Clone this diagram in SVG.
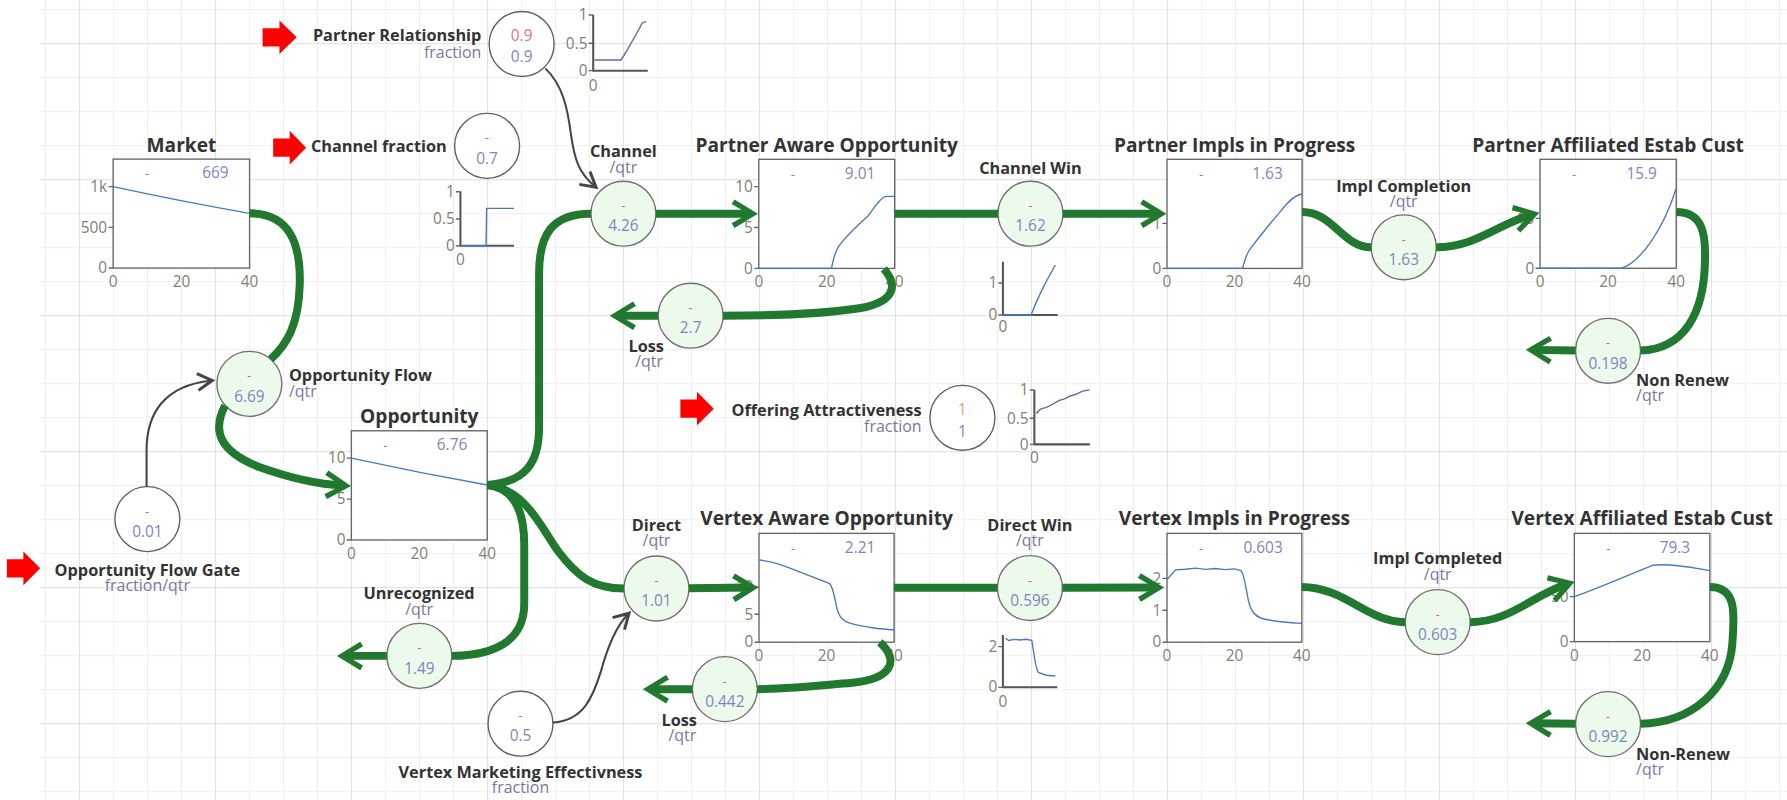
<svg xmlns="http://www.w3.org/2000/svg" width="1787" height="800" viewBox="0 0 1787 800">
<style>
text{font-family:"Open Sans","Liberation Sans",sans-serif}
.t{font-size:16.8px;font-weight:700;fill:#333;text-anchor:middle}
.lb{font-size:14.3px;font-weight:700;fill:#333}
.u{font-size:14px;fill:#7b76a0}
.v{font-size:13.5px;fill:#7d85c0}
.v1{font-size:13.5px;fill:#e8707f}
.v2{font-size:13.5px;fill:#f39a6b}
.d{font-size:11px;fill:#f05454;text-anchor:middle}
.ax{font-size:13.5px;fill:#877d70}
.c{text-anchor:middle}
.e{text-anchor:end}
.box{fill:#fff;stroke:#666;stroke-width:1.2}
.tk{stroke:#666;stroke-width:1.2;fill:none}
.crv{fill:none;stroke:#4a78c8;stroke-width:1.2}
.pcrv{fill:none;stroke:#7a62a8;stroke-width:1.3}
.sax{fill:none;stroke:#555;stroke-width:1.8}
.flow{fill:#ebfaeb;stroke:#707070;stroke-width:1.2}
.aux{fill:#fff;stroke:#606060;stroke-width:1.2}
.pipe{fill:none;stroke:#21782f;stroke-width:7}
.link{fill:none;stroke:#454545;stroke-width:1.8}
.red{fill:#f00}
</style>
<defs>
<pattern id="grid" x="79.1" y="43.2" width="136" height="136" patternUnits="userSpaceOnUse">
<path d="M34.5,0V136M68.5,0V136M102.5,0V136M0,34.5H136M0,68.5H136M0,102.5H136" stroke="#efefef" stroke-width="1"/>
<path d="M0.5,0V136M0,0.5H136" stroke="#dedede" stroke-width="1"/>
</pattern>
<marker id="ah" viewBox="-24 -14 31 28" refX="-7" refY="0" markerWidth="31" markerHeight="28" markerUnits="userSpaceOnUse" orient="auto">
<path d="M0,0 L-20.5,-12.5 L-23,-8.4 L-8.5,0 L-23,8.4 L-20.5,12.5 Z" fill="#21782f"/>
</marker>
<marker id="ag" viewBox="-19 -10 25 20" refX="-4" refY="0" markerWidth="25" markerHeight="20" markerUnits="userSpaceOnUse" orient="auto">
<path d="M0,0 L-15,-8.5 L-16.3,-6.3 L-5.5,0 L-16.3,6.3 L-15,8.5 Z" fill="#454545"/>
</marker>
</defs>
<rect width="1787" height="800" fill="#fff"/>
<rect x="40" y="0" width="1747" height="800" fill="url(#grid)"/>

<g transform="scale(1.13967)">

<!-- stocks -->
<g id="market">
<text class="t" x="159.2" y="133">Market</text>
<rect class="box" x="99.3" y="139.6" width="119.7" height="95.6"/>
<path class="tk" d="M95.3,163.8H99.3M95.3,199.5H99.3M95.3,235.2H99.3"/>
<text class="ax e" x="94" y="168.4">1k</text>
<text class="ax e" x="94" y="204.1">500</text>
<text class="ax e" x="94" y="239.8">0</text>
<text class="ax c" x="99.3" y="251.7">0</text>
<text class="ax c" x="159.2" y="251.7">20</text>
<text class="ax c" x="219" y="251.7">40</text>
<path class="crv" d="M99.3,163.8 Q160,177 219,187.2"/>
<text class="d" x="129.3" y="156.6">-</text>
<text class="v e" x="200.5" y="156.6">669</text>
</g>

<g id="partner-aware-opportunity">
<text class="t" x="725.4" y="133">Partner Aware Opportunity</text>
<rect class="box" x="665.8" y="139.8" width="119.2" height="95.7"/>
<path class="tk" d="M661.8,163.8H665.8M661.8,199.6H665.8M661.8,235.5H665.8"/>
<text class="ax e" x="660.5" y="168.4">10</text>
<text class="ax e" x="660.5" y="204.2">5</text>
<text class="ax e" x="660.5" y="240.1">0</text>
<text class="ax c" x="665.8" y="251.8">0</text>
<text class="ax c" x="725.4" y="251.8">20</text>
<text class="ax c" x="785" y="251.8">40</text>
<path class="crv" d="M665.8,235.5 L729.6,235.5 C731,228 732,222 736,216 C745,204 755,196 762,189 C768,181 772,174 777,172.3 L785,172.3"/>
<text class="d" x="695.8" y="156.8">-</text>
<text class="v e" x="768" y="156.8">9.01</text>
</g>

<g id="partner-impls-in-progress">
<text class="t" x="1083.3" y="133">Partner Impls in Progress</text>
<rect class="box" x="1024" y="139.8" width="118.5" height="95.7"/>
<path class="tk" d="M1020,196H1024M1020,235.5H1024"/>
<text class="ax e" x="1019" y="200.6">1</text>
<text class="ax e" x="1019" y="240.1">0</text>
<text class="ax c" x="1024" y="251.8">0</text>
<text class="ax c" x="1083.3" y="251.8">20</text>
<text class="ax c" x="1142.5" y="251.8">40</text>
<path class="crv" d="M1024,235.5 L1090.2,235.5 C1093,226 1094,222 1098,217 C1108,204 1117,193 1124,185 C1130,177 1136,171 1142.5,170.2"/>
<text class="d" x="1054" y="156.8">-</text>
<text class="v e" x="1125.5" y="156.8">1.63</text>
</g>

<g id="partner-affiliated-estab-cust">
<text class="t" x="1411" y="133">Partner Affiliated Estab Cust</text>
<rect class="box" x="1351.3" y="139.8" width="119.5" height="95.6"/>
<path class="tk" d="M1347.3,191.6H1351.3M1347.3,235.4H1351.3"/>
<text class="ax e" x="1346.3" y="196.2">10</text>
<text class="ax e" x="1346.3" y="240">0</text>
<text class="ax c" x="1351.3" y="251.8">0</text>
<text class="ax c" x="1411" y="251.8">20</text>
<text class="ax c" x="1470.8" y="251.8">40</text>
<path class="crv" d="M1351.3,235.4 L1422.5,235.4 C1440,230 1460,200 1470.8,165.2"/>
<text class="d" x="1381.3" y="156.8">-</text>
<text class="v e" x="1453.8" y="156.8">15.9</text>
</g>

<g id="opportunity">
<text class="t" x="367.9" y="371">Opportunity</text>
<rect class="box" x="308.3" y="378" width="119.2" height="95.8"/>
<path class="tk" d="M304.3,402H308.3M304.3,437.9H308.3M304.3,473.8H308.3"/>
<text class="ax e" x="303.3" y="406.6">10</text>
<text class="ax e" x="303.3" y="442.5">5</text>
<text class="ax e" x="303.3" y="478.4">0</text>
<text class="ax c" x="308.3" y="490.2">0</text>
<text class="ax c" x="367.9" y="490.2">20</text>
<text class="ax c" x="427.5" y="490.2">40</text>
<path class="crv" d="M308.3,402 Q368,415 427.5,425.6"/>
<text class="d" x="338.3" y="395">-</text>
<text class="v e" x="410" y="395">6.76</text>
</g>

<g id="vertex-aware-opportunity">
<text class="t" x="725.3" y="461">Vertex Aware Opportunity</text>
<rect class="box" x="666" y="468" width="118.5" height="95.5"/>
<path class="tk" d="M662,515H666M662,539H666M662,563.5H666"/>
<text class="ax e" x="661" y="519.6">10</text>
<text class="ax e" x="661" y="543.6">5</text>
<text class="ax e" x="661" y="568.1">0</text>
<text class="ax c" x="666" y="580.2">0</text>
<text class="ax c" x="725.3" y="580.2">20</text>
<text class="ax c" x="784.5" y="580.2">40</text>
<path class="crv" d="M666,491.4 C675,492 680,494 688,496.5 L728,512 C731,516 732,522 733.5,530 C735.5,540 738,544 745,546.5 C752,549 760,550 770,551.5 L784.5,552.8"/>
<text class="d" x="696" y="485">-</text>
<text class="v e" x="768" y="485">2.21</text>
</g>

<g id="vertex-impls-in-progress">
<text class="t" x="1083.2" y="461">Vertex Impls in Progress</text>
<rect class="box" x="1024" y="468" width="118.3" height="95.5"/>
<path class="tk" d="M1020,507.5H1024M1020,535.5H1024M1020,563.5H1024"/>
<text class="ax e" x="1019" y="512.1">2</text>
<text class="ax e" x="1019" y="540.1">1</text>
<text class="ax e" x="1019" y="568.1">0</text>
<text class="ax c" x="1024" y="580.2">0</text>
<text class="ax c" x="1083.2" y="580.2">20</text>
<text class="ax c" x="1142.3" y="580.2">40</text>
<path class="crv" d="M1024,508.5 L1031.5,500 L1040,499.5 L1049,498.5 L1058,499.6 L1066,498.8 L1075,499.8 L1083,499.2 L1089,500.7 C1092,505 1093,515 1095,525 C1097,535 1100,540 1107,542.5 C1115,545 1125,546 1142.3,547"/>
<text class="d" x="1054" y="485">-</text>
<text class="v e" x="1125.5" y="485">0.603</text>
</g>

<g id="vertex-affiliated-estab-cust">
<text class="t" x="1440.9" y="461">Vertex Affiliated Estab Cust</text>
<rect class="box" x="1381.4" y="468" width="118.9" height="95"/>
<path class="tk" d="M1377.4,523.5H1381.4M1377.4,563H1381.4"/>
<text class="ax e" x="1376.4" y="528.1">50</text>
<text class="ax e" x="1376.4" y="567.6">0</text>
<text class="ax c" x="1381.4" y="579.7">0</text>
<text class="ax c" x="1440.9" y="579.7">20</text>
<text class="ax c" x="1500.3" y="579.7">40</text>
<path class="crv" d="M1381.4,523.5 C1405,515 1430,504 1450,496 C1465,494 1485,498 1500.3,500.7"/>
<text class="d" x="1411.4" y="485">-</text>
<text class="v e" x="1483" y="485">79.3</text>
</g>

<!-- flows -->
<g id="opportunity-flow">
<circle class="flow" cx="218.8" cy="336.8" r="28.5"/>
<text class="d" x="218.8" y="333.8">-</text>
<text class="v c" x="218.8" y="352.4">6.69</text>
<text class="lb" x="253.5" y="334">Opportunity Flow</text>
<text class="u" x="253.5" y="348.5">/qtr</text>
</g>

<g id="channel">
<circle class="flow" cx="547" cy="187.5" r="28.5"/>
<text class="d" x="547" y="184.5">-</text>
<text class="v c" x="547" y="203">4.26</text>
<text class="lb c" x="547" y="137.5">Channel</text>
<text class="u c" x="547" y="151.5">/qtr</text>
</g>

<g id="loss-partner">
<circle class="flow" cx="606" cy="277" r="28.5"/>
<text class="d" x="606" y="274">-</text>
<text class="v c" x="606" y="292.6">2.7</text>
<text class="lb c" x="567" y="308.6">Loss</text>
<text class="u c" x="569.5" y="322">/qtr</text>
</g>

<g id="channel-win">
<circle class="flow" cx="904.2" cy="187.5" r="28.5"/>
<text class="d" x="904.2" y="184.5">-</text>
<text class="v c" x="904.2" y="203">1.62</text>
<text class="lb c" x="904.2" y="152.7">Channel Win</text>
<path class="sax" d="M880,229.6V276.4H928"/>
<path class="tk" d="M876,248.3H880M876,276.4H880"/>
<text class="ax e" x="875" y="252.9">1</text>
<text class="ax e" x="875" y="281">0</text>
<text class="ax c" x="880" y="291.2">0</text>
<path class="crv" d="M880,276.4 L904.7,276.4 C910,262 914,255 918,247 L926,232.5"/>
</g>

<g id="impl-completion">
<circle class="flow" cx="1231.7" cy="217" r="28.5"/>
<text class="d" x="1231.7" y="214">-</text>
<text class="v c" x="1231.7" y="232.6">1.63</text>
<text class="lb c" x="1231.7" y="168.2">Impl Completion</text>
<text class="u c" x="1231.7" y="181.5">/qtr</text>
</g>

<g id="non-renew">
<circle class="flow" cx="1411" cy="307.8" r="28.5"/>
<text class="d" x="1411" y="304.8">-</text>
<text class="v c" x="1411" y="323.4">0.198</text>
<text class="lb" x="1435.6" y="338.7">Non Renew</text>
<text class="u" x="1435.6" y="352">/qtr</text>
</g>

<g id="unrecognized">
<circle class="flow" cx="368" cy="575.5" r="28.5"/>
<text class="d" x="368" y="572.5">-</text>
<text class="v c" x="368" y="591">1.49</text>
<text class="lb c" x="367.7" y="525.9">Unrecognized</text>
<text class="u c" x="367.7" y="539.5">/qtr</text>
</g>

<g id="direct">
<circle class="flow" cx="576" cy="516.4" r="28.5"/>
<text class="d" x="576" y="513.4">-</text>
<text class="v c" x="576" y="532">1.01</text>
<text class="lb c" x="576" y="465.6">Direct</text>
<text class="u c" x="576" y="479.5">/qtr</text>
</g>

<g id="loss-vertex">
<circle class="flow" cx="636" cy="604.7" r="28.5"/>
<text class="d" x="636" y="601.7">-</text>
<text class="v c" x="636" y="620.3">0.442</text>
<text class="lb c" x="596" y="637">Loss</text>
<text class="u c" x="598.7" y="650.5">/qtr</text>
</g>

<g id="direct-win">
<circle class="flow" cx="903.7" cy="516" r="28.5"/>
<text class="d" x="903.7" y="513">-</text>
<text class="v c" x="903.7" y="531.6">0.596</text>
<text class="lb c" x="903.7" y="465.6">Direct Win</text>
<text class="u c" x="903.7" y="479.5">/qtr</text>
<path class="sax" d="M880,557.2V603.1H927.7"/>
<path class="tk" d="M876,567.4H880M876,603.1H880"/>
<text class="ax e" x="875" y="572">2</text>
<text class="ax e" x="875" y="607.6">0</text>
<text class="ax c" x="880" y="620.3">0</text>
<path class="crv" d="M882.4,560 L885,562 L890,561 L895,561.6 L900,560.9 L905.3,561.8 C907,570 908,585 911,590 L918,592.5 L926,593.2"/>
</g>

<g id="impl-completed">
<circle class="flow" cx="1261.5" cy="545.9" r="28.5"/>
<text class="d" x="1261.5" y="542.9">-</text>
<text class="v c" x="1261.5" y="561.5">0.603</text>
<text class="lb c" x="1261.5" y="494.9">Impl Completed</text>
<text class="u c" x="1261.5" y="509">/qtr</text>
</g>

<g id="non-renew-vertex">
<circle class="flow" cx="1411" cy="635.4" r="28.5"/>
<text class="d" x="1411" y="632.4">-</text>
<text class="v c" x="1411" y="651">0.992</text>
<text class="lb" x="1435.6" y="666.8">Non-Renew</text>
<text class="u" x="1435.6" y="680">/qtr</text>
</g>

<!-- converters -->
<g id="partner-relationship">
<path class="red" d="M230.4,24.7H245.2V18L260.3,32.7L245.2,47.4V40.7H230.4Z"/>
<text class="lb e" x="422.4" y="36.3">Partner Relationship</text>
<text class="u e" x="422.4" y="50.5">fraction</text>
<circle class="aux" cx="457.7" cy="38.6" r="28.5"/>
<text class="v1 c" x="457.7" y="36.3">0.9</text>
<text class="v c" x="457.7" y="54.5">0.9</text>
<path class="sax" d="M520.5,13.2V62H568.4"/>
<path class="tk" d="M516.5,13.2H520.5M516.5,38H520.5M516.5,62H520.5"/>
<text class="ax e" x="515.5" y="17.8">1</text>
<text class="ax e" x="515.5" y="42.6">0.5</text>
<text class="ax e" x="515.5" y="66.6">0</text>
<text class="ax c" x="520.5" y="79.6">0</text>
<path class="pcrv" d="M521.5,52.6 L545,52.6 L550,44.5 L556,34 L561,25 L563.5,20.2 L567,19"/>
</g>

<g id="channel-fraction">
<path class="red" d="M239.7,121.6H254.2V114.8L268.6,129.6L254.2,144.4V137.6H239.7Z"/>
<text class="lb e" x="392" y="133">Channel fraction</text>
<circle class="aux" cx="427.4" cy="128" r="28.5"/>
<text class="d" x="427.4" y="125">-</text>
<text class="v c" x="427.4" y="143.6">0.7</text>
<path class="sax" d="M404,168V215.6H451"/>
<path class="tk" d="M400,168.2H404M400,192.2H404M400,215.6H404"/>
<text class="ax e" x="399" y="172.8">1</text>
<text class="ax e" x="399" y="196.8">0.5</text>
<text class="ax e" x="399" y="220.2">0</text>
<text class="ax c" x="404" y="232.7">0</text>
<path class="crv" d="M404,215.6 L426.5,215.6 L427,182.8 L451,182.8"/>
</g>

<g id="offering-attractiveness">
<path class="red" d="M597,350.6H611.5V343.8L626.3,358.6L611.5,373.4V366.6H597Z"/>
<text class="lb e" x="808.6" y="365">Offering Attractiveness</text>
<text class="u e" x="808.6" y="379">fraction</text>
<circle class="aux" cx="844.5" cy="366.6" r="28.5"/>
<text class="v2 c" x="844.5" y="364.4">1</text>
<text class="v c" x="844.5" y="383.4">1</text>
<path class="sax" d="M907.6,342.2V389.9H956.3"/>
<path class="tk" d="M903.6,342.2H907.6M903.6,367H907.6M903.6,389.9H907.6"/>
<text class="ax e" x="902.6" y="346.8">1</text>
<text class="ax e" x="902.6" y="371.6">0.5</text>
<text class="ax e" x="902.6" y="394.5">0</text>
<text class="ax c" x="907.6" y="406.6">0</text>
<path class="pcrv" d="M909.3,362.7 L913,359 L918,357.5 L923,355 L929,351.5 L934,350 L939,347.5 L944,346 L950,343.2 L956,342.2"/>
</g>

<g id="opportunity-flow-gate">
<path class="red" d="M6,490.7H20.5V483.9L35.3,498.7L20.5,513.5V506.7H6Z"/>
<circle class="aux" cx="129.3" cy="455.5" r="28.5"/>
<text class="d" x="129.3" y="452.5">-</text>
<text class="v c" x="129.3" y="471">0.01</text>
<text class="lb c" x="129.3" y="505">Opportunity Flow Gate</text>
<text class="u c" x="129.3" y="518.5">fraction/qtr</text>
</g>

<g id="vertex-marketing-effectivness">
<circle class="aux" cx="456.7" cy="635" r="28.5"/>
<text class="d" x="456.7" y="632">-</text>
<text class="v c" x="456.7" y="650.6">0.5</text>
<text class="lb c" x="456.7" y="682.3">Vertex Marketing Effectivness</text>
<text class="u c" x="456.7" y="695.5">fraction</text>
</g>

<!-- connectors: material pipes and information links -->
<g id="connectors">
<path class="pipe" d="M219,187.2 C255,187.2 264,215 263,250 C262,285 252,302 237.5,315.2"/>
<path class="pipe" d="M197.5,355.8 C186,378 192,396 228,410 C256,420 280,425 301,426" marker-end="url(#ah)"/>
<path class="pipe" d="M427.5,425.6 C462,423 473,405 473,375 L473,240 C473,205 485,187.5 518.5,187.5"/>
<path class="pipe" d="M575.5,187.5 L658,187.5" marker-end="url(#ah)"/>
<path class="pipe" d="M775.5,236 C788,250 786,265 754,270.5 C725,275 680,277 634.5,277"/>
<path class="pipe" d="M577.5,277 L542,277" marker-end="url(#ah)"/>
<path class="pipe" d="M785,187.5 L875.7,187.5"/>
<path class="pipe" d="M932.7,187.5 L1016.5,187.5" marker-end="url(#ah)"/>
<path class="pipe" d="M1142.5,186 C1170,186 1178,217 1203.2,217"/>
<path class="pipe" d="M1260.2,217 C1295,217 1315,196 1344,188.5" marker-end="url(#ah)"/>
<path class="pipe" d="M1470.8,186 C1494,186 1497,205 1496,230 C1495,275 1478,306 1439.5,307.6"/>
<path class="pipe" d="M1382.5,307.6 L1345.7,307" marker-end="url(#ah)"/>
<path class="pipe" d="M427.5,425.6 C452,428 460,450 460,478 L460,530 C460,558 440,575 396.5,575.5"/>
<path class="pipe" d="M339.5,575.5 L302.6,575.5" marker-end="url(#ah)"/>
<path class="pipe" d="M427.5,425.6 C462,430 474,462 490,484 C506,505 520,516.4 547.5,516.4"/>
<path class="pipe" d="M604.5,516.2 L658.5,515.5" marker-end="url(#ah)"/>
<path class="pipe" d="M772,563.5 C790,580 782,596 748,599 C716,602 690,604.7 664.5,604.7"/>
<path class="pipe" d="M607.5,604.7 L571,604.7" marker-end="url(#ah)"/>
<path class="pipe" d="M784.5,515.7 L875.2,515.7"/>
<path class="pipe" d="M932.2,515.7 L1014.5,515.5" marker-end="url(#ah)"/>
<path class="pipe" d="M1142.3,515 C1180,515 1200,545.9 1233,545.9"/>
<path class="pipe" d="M1290,545.9 C1325,545.9 1345,522 1375,512.5" marker-end="url(#ah)"/>
<path class="pipe" d="M1500.3,515 C1524,515 1522,538 1520,565 C1517,605 1485,634 1439.5,635"/>
<path class="pipe" d="M1382.5,635 L1345.7,634.7" marker-end="url(#ah)"/>
<path class="link" d="M128.6,427 L128.6,395 C128.6,362 145,338 185,334" marker-end="url(#ag)"/>
<path class="link" d="M478.5,60 C494,75 498,95 501,118 C504,140 508,152 522,163.5" marker-end="url(#ag)"/>
<path class="link" d="M485.2,634 C512,632 520,612 527,590 C533,568 540,550 551,539" marker-end="url(#ag)"/>
</g>

</g>
</svg>
